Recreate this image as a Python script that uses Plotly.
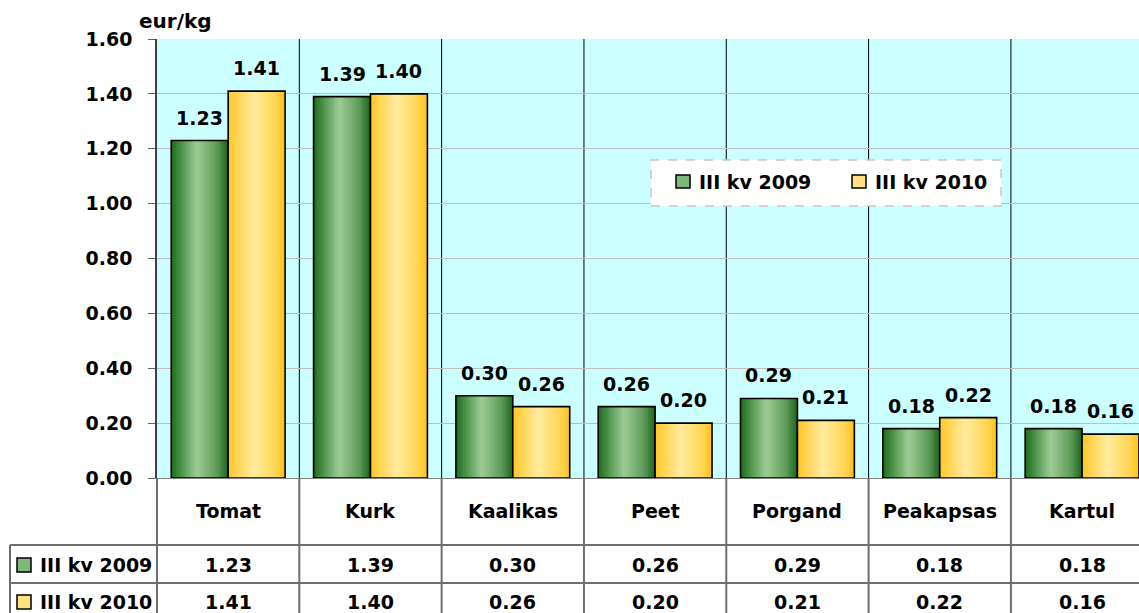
import plotly.graph_objects as go

# ---------------- data ----------------
categories = ["Tomat", "Kurk", "Kaalikas", "Peet", "Porgand", "Peakapsas", "Kartul"]
series_names = ["III kv 2009", "III kv 2010"]
values_2009 = [1.23, 1.39, 0.30, 0.26, 0.29, 0.18, 0.18]
values_2010 = [1.41, 1.40, 0.26, 0.20, 0.21, 0.22, 0.16]
y_tick_values = [0.0, 0.2, 0.4, 0.6, 0.8, 1.0, 1.2, 1.4, 1.6]
y_tick_labels = ["0.00", "0.20", "0.40", "0.60", "0.80", "1.00", "1.20", "1.40", "1.60"]
unit_label = "eur/kg"

# ---------------- styling ----------------
FONT = "DejaVu Sans"
FS = 19
BAR_W = 0.40          # width of one bar, in category units
N_STRIPS = 24         # strips used to imitate horizontal gradient
green_stops = [(0.0, (30, 105, 30)), (0.12, (60, 135, 60)), (0.45, (158, 204, 150)),
               (0.8, (95, 155, 90)), (1.0, (28, 100, 28))]
yellow_stops = [(0.0, (255, 198, 40)), (0.45, (255, 236, 160)), (0.85, (255, 212, 80)),
                (1.0, (255, 192, 20))]


def grad(stops, t):
    for (t0, c0), (t1, c1) in zip(stops[:-1], stops[1:]):
        if t0 <= t <= t1:
            f = (t - t0) / (t1 - t0) if t1 > t0 else 0
            c = [round(a + (b - a) * f) for a, b in zip(c0, c1)]
            return "rgb(%d,%d,%d)" % tuple(c)
    return "rgb(%d,%d,%d)" % stops[-1][1]


def bold(size=FS):
    return dict(family=FONT, size=size, color="black", weight="bold")


x_idx = list(range(len(categories)))
fig = go.Figure()

for values, stops, base_off in [(values_2009, green_stops, -BAR_W), (values_2010, yellow_stops, 0.0)]:
    sw = BAR_W / N_STRIPS
    for k in range(N_STRIPS):
        t = (k + 0.5) / N_STRIPS
        w = sw * (1.6 if k < N_STRIPS - 1 else 1.0)
        fig.add_trace(go.Bar(
            x=x_idx, y=values, width=w, offset=base_off + k * sw,
            marker=dict(color=grad(stops, t), line=dict(width=0)),
            showlegend=False, hoverinfo="skip"))
    # outline
    fig.add_trace(go.Bar(
        x=x_idx, y=values, width=BAR_W, offset=base_off,
        marker=dict(color="rgba(0,0,0,0)", line=dict(color="black", width=1.6)),
        showlegend=False, hoverinfo="skip"))

# ---------------- geometry helpers (window pixels -> paper) ----------------
FIG_W, FIG_H = 1139, 613
PLOT_TOP, PLOT_BOTTOM, PLOT_LEFT, PLOT_RIGHT = 39, 478, 157, 1139
PH = PLOT_BOTTOM - PLOT_TOP
PW = PLOT_RIGHT - PLOT_LEFT


def py(Y):
    return (PLOT_BOTTOM - Y) / PH


def px(X):
    return (X - PLOT_LEFT) / PW


annotations = []
shapes = []

# data labels
for values, sign in [(values_2009, -1), (values_2010, 1)]:
    for i, v in enumerate(values):
        annotations.append(dict(
            x=i + sign * BAR_W / 2, y=v, xref="x", yref="y", text="%.2f" % v,
            showarrow=False, xanchor="center", yanchor="middle", yshift=23, font=bold()))

# category labels + table values
for i, c in enumerate(categories):
    for txt, Y in [(c, 511), ("%.2f" % values_2009[i], 565), ("%.2f" % values_2010[i], 602)]:
        annotations.append(dict(x=i, y=py(Y), xref="x", yref="paper", text=txt, showarrow=False,
                                xanchor="center", yanchor="middle", font=bold()))

# table row labels with swatches
for name, yc, fill in [(series_names[0], 565, "#7DB87A"), (series_names[1], 602, "#FFE27F")]:
    annotations.append(dict(x=px(38), y=py(yc), xref="paper", yref="paper", text=name, showarrow=False,
                            xanchor="left", yanchor="middle", font=bold()))
    shapes.append(dict(type="rect", xref="paper", yref="paper", x0=px(17), x1=px(31),
                       y0=py(yc + 7), y1=py(yc - 7), fillcolor=fill, line=dict(color="black", width=1.5)))

# unit label
annotations.append(dict(x=px(175), y=py(21), xref="paper", yref="paper", text=unit_label, showarrow=False,
                        xanchor="center", yanchor="middle", font=bold(20)))

# legend box
shapes.append(dict(type="rect", xref="paper", yref="paper", x0=px(651), x1=px(1001), y0=py(206), y1=py(160),
                   fillcolor="white", line=dict(color="#C8C8C8", width=1.5, dash="dash"), layer="above"))
for name, sx, tx, fill in [(series_names[0], 676, 697, "#7DB87A"), (series_names[1], 852, 873, "#FFE27F")]:
    shapes.append(dict(type="rect", xref="paper", yref="paper", x0=px(sx), x1=px(sx + 14),
                       y0=py(188), y1=py(175), fillcolor=fill, line=dict(color="black", width=1.5),
                       layer="above"))
    annotations.append(dict(x=px(tx), y=py(182), xref="paper", yref="paper", text=name, showarrow=False,
                            xanchor="left", yanchor="middle", font=bold()))

# category separators (plot area and table)
for i in range(len(categories) - 1):
    shapes.append(dict(type="line", xref="x", yref="paper", x0=i + 0.5, x1=i + 0.5, y0=0, y1=1,
                       line=dict(color="black", width=1), layer="below"))
    shapes.append(dict(type="line", xref="x", yref="paper", x0=i + 0.5, x1=i + 0.5, y0=py(625), y1=0,
                       line=dict(color="#6E6E6E", width=2)))
# table left borders & rows
shapes.append(dict(type="line", xref="paper", yref="paper", x0=0, x1=0, y0=py(625), y1=0,
                   line=dict(color="#6E6E6E", width=2)))
shapes.append(dict(type="line", xref="paper", yref="paper", x0=px(10), x1=px(10), y0=py(625), y1=py(545),
                   line=dict(color="#6E6E6E", width=2)))
for Y in (545, 583):
    shapes.append(dict(type="line", xref="paper", yref="paper", x0=px(10), x1=1, y0=py(Y), y1=py(Y),
                       line=dict(color="#6E6E6E", width=2)))

fig.update_layout(
    width=FIG_W, height=FIG_H,
    margin=dict(l=PLOT_LEFT, r=0, t=PLOT_TOP, b=FIG_H - PLOT_BOTTOM, autoexpand=False),
    paper_bgcolor="white", plot_bgcolor="#CCFFFF",
    barmode="overlay",
    showlegend=False,
    annotations=annotations, shapes=shapes,
    xaxis=dict(range=[-0.5, 6.40], showticklabels=False, showgrid=False, zeroline=False,
               showline=True, linecolor="#808080", linewidth=1, ticks=""),
    yaxis=dict(range=[0, 1.6], tickvals=y_tick_values, ticktext=y_tick_labels,
               ticks="outside", ticklen=7, tickcolor="#606060", ticklabelstandoff=12,
               showline=True, linecolor="#404040", linewidth=1.5,
               showgrid=True, gridcolor="#BDBDBD", gridwidth=1, zeroline=False,
               tickfont=bold()),
)

fig.write_html(
    "out.html",
    config={"displayModeBar": False},
    post_script=("document.documentElement.style.overflow='hidden';"
                 "document.body.style.overflow='hidden';"
                 "document.body.style.margin='0';"),
)
